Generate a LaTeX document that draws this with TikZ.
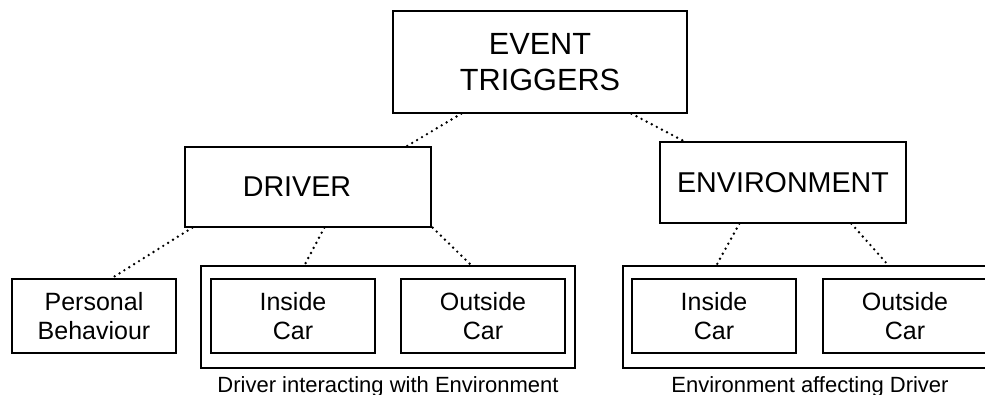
\documentclass[tikz,border=0pt]{standalone}
\usepackage{fontspec}
\setmainfont{Liberation Sans}
\usetikzlibrary{calc}
\tikzset{
  box/.style={draw=black, line width=0.9pt, fill=white, inner sep=0pt, align=center},
  rootbox/.style={box, minimum width=220.5pt, minimum height=76.5pt,
    font=\fontsize{23}{27}\selectfont},
  midbox/.style={box, minimum width=184.5pt, minimum height=60pt,
    font=\fontsize{21.5}{25}\selectfont},
  leafbox/.style={box, minimum width=123pt, minimum height=55.5pt,
    font=\fontsize{18.75}{21.75}\selectfont},
  groupbox/.style={draw=black, line width=0.9pt, inner sep=0pt,
    minimum width=280.5pt, minimum height=76.5pt},
  caption/.style={anchor=base, inner sep=0pt, font=\fontsize{16.5}{19}\selectfont},
  link/.style={line width=2pt, line cap=round, dash pattern=on 0pt off 4.3pt}
}
\begin{document}
\begin{tikzpicture}[x=0.75pt, y=-0.75pt]
\useasboundingbox (0,0) rectangle (985,394);

% group frames behind the leaf boxes
\node[groupbox] (dgroup) at (388,317) {};
\node[groupbox] (egroup) at (810,317) {};

% hierarchy
\node[rootbox] (root) at (540,62) {EVENT\\TRIGGERS};
\node[midbox] (driver) at (308,187) {DRIVER\hspace*{16.5pt}};
\node[midbox, minimum height=60.75pt] (env) at (783,182.5) {ENVIRONMENT};

\node[leafbox] (personal) at (94,316) {Personal\\Behaviour};
\node[leafbox] (dinside) at (293,316) {Inside\\Car};
\node[leafbox] (doutside) at (483,316) {Outside\\Car};
\node[leafbox] (einside) at (714,316) {Inside\\Car};
\node[leafbox] (eoutside) at (905,316) {Outside\\Car};

% captions under the groups
\node[caption] (dcap) at ($(dgroup.south)+(0,24)$) {Driver interacting with Environment};
\node[caption] (ecap) at ($(egroup.south)+(0,24)$) {Environment affecting Driver};

% dotted connectors
\draw[link] ($(root.south west)+(69,0)$) -- ($(driver.north west)+(222,0)$);
\draw[link] ($(root.south west)+(239,0)$) -- ($(env.north west)+(25,0)$);
\draw[link] ($(driver.south west)+(8,0)$) -- ($(personal.north west)+(100,0)$);
\draw[link] ($(driver.south west)+(140,0)$) -- ($(dgroup.north west)+(104,0)$);
\draw[link] ($(driver.south east)+(1,0)$) -- ($(dgroup.north west)+(271,0)$);
\draw[link] ($(env.south west)+(80,0)$) -- ($(egroup.north west)+(94,0)$);
\draw[link] ($(env.south west)+(192,0)$) -- ($(egroup.north west)+(266,0)$);
\end{tikzpicture}
\end{document}
